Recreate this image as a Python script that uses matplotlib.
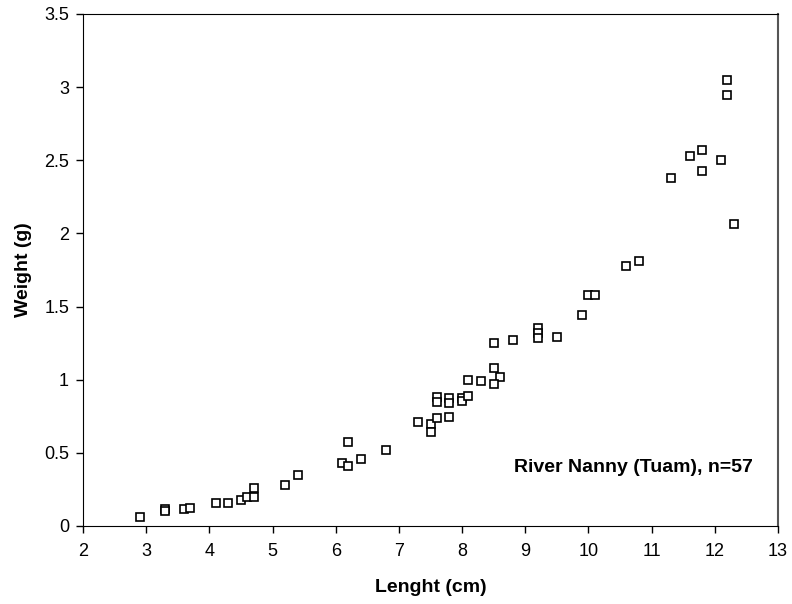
import matplotlib
matplotlib.use("Agg")
import matplotlib.pyplot as plt

plt.rcParams['font.family'] = ['Liberation Sans', 'DejaVu Sans']

# length (cm) and weight (g)
length = [2.9, 3.3, 3.3, 3.6, 3.7, 4.1, 4.3, 4.5, 4.6, 4.7,
          4.7, 5.2, 5.4, 6.1, 6.2, 6.2, 6.4, 6.8, 7.3, 7.5,
          7.5, 7.6, 7.8, 7.6, 7.6, 7.8, 7.8, 8.0, 8.0, 8.1,
          8.1, 8.3, 8.5, 8.6, 8.5, 8.5, 8.8, 9.2, 9.2, 9.2,
          9.5, 9.9, 10.0, 10.1, 10.6, 10.8, 12.3, 12.2, 12.2, 11.8,
          11.6, 12.1, 11.8, 11.3]
weight = [0.064, 0.114, 0.10, 0.114, 0.125, 0.155, 0.155, 0.178, 0.196, 0.196,
          0.258, 0.278, 0.349, 0.43, 0.572, 0.41, 0.456, 0.52, 0.713, 0.695,
          0.643, 0.736, 0.745, 0.884, 0.845, 0.873, 0.843, 0.877, 0.854, 0.886,
          0.998, 0.989, 1.08, 1.018, 0.968, 1.253, 1.273, 1.353, 1.317, 1.283,
          1.294, 1.444, 1.577, 1.577, 1.779, 1.809, 2.062, 3.049, 2.946, 2.572,
          2.531, 2.502, 2.429, 2.379]

x_ticks = list(range(2, 14))
y_ticks = [0, 0.5, 1, 1.5, 2, 2.5, 3, 3.5]
y_tick_labels = ['0', '0.5', '1', '1.5', '2', '2.5', '3', '3.5']

fig = plt.figure(figsize=(7.92, 6.04), dpi=100)
ax = fig.add_axes([83 / 792, 1 - 526 / 604, 695 / 792, 512 / 604])

ax.plot(length, weight, linestyle='none', marker='s', markersize=5.5,
        markerfacecolor='white', markeredgecolor='black', markeredgewidth=1.2)

ax.set_xlim(2, 13)
ax.set_ylim(0, 3.5)
ax.set_xticks(x_ticks)
ax.set_yticks(y_ticks)
ax.set_yticklabels(y_tick_labels)
ax.tick_params(direction='out', length=5, width=1, labelsize=13)
ax.tick_params(axis='x', pad=7)
ax.tick_params(axis='y', pad=5)

for side in ['left', 'bottom', 'top']:
    ax.spines[side].set_color('black')
ax.spines['right'].set_color('#555555')
ax.spines['right'].set_linewidth(1.5)

ax.set_xlabel('Lenght (cm)', fontsize=14, fontweight='bold', va='center')
ax.set_ylabel('Weight (g)', fontsize=14, fontweight='bold', va='center')
ax.xaxis.set_label_coords(0.5, -0.121)
ax.yaxis.set_label_coords(-0.085, 0.5)

ax.text(0.964, 0.115, 'River Nanny (Tuam), n=57', transform=ax.transAxes,
        ha='right', va='center', fontsize=14, fontweight='bold')

fig.savefig('out.png', dpi=100, facecolor='white')
